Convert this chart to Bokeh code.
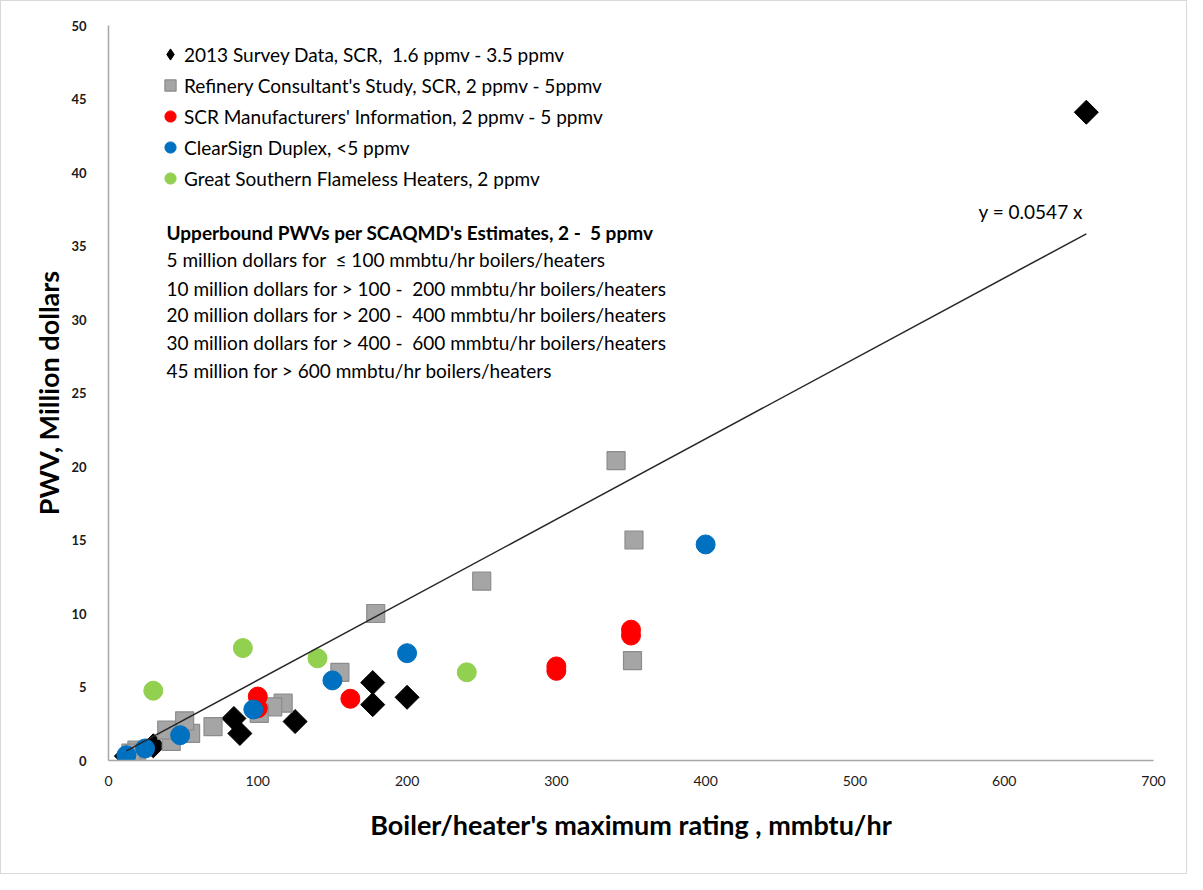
import math
from bokeh.plotting import figure
from bokeh.models import (Legend, LegendItem, Label, Range1d, FixedTicker,
                          ColumnDataSource, CDSView, IndexFilter)
from bokeh.embed import file_html
from bokeh.resources import INLINE

# ---------------- data ----------------
survey_x = [655, 177, 177, 200, 125, 84, 88, 30, 12]
survey_y = [44.1, 5.3, 3.8, 4.3, 2.65, 2.86, 1.84, 1.0, 0.3]

refinery_x = [340, 352, 250, 179, 155, 351, 117, 110, 101, 70, 55, 51, 42, 39, 19, 15]
refinery_y = [20.4, 15.0, 12.2, 10.0, 6.0, 6.8, 3.9, 3.65, 3.2, 2.3, 1.84, 2.7, 1.3, 2.06, 0.7, 0.5]

scr_x = [350, 350, 300, 300, 162, 100, 100]
scr_y = [8.9, 8.5, 6.4, 6.1, 4.2, 4.35, 3.55]

clearsign_x = [400, 200, 150, 97, 48, 24.5, 12]
clearsign_y = [14.7, 7.3, 5.45, 3.47, 1.72, 0.82, 0.36]

flameless_x = [30, 90, 140, 240]
flameless_y = [4.75, 7.65, 6.95, 6.0]

trend_slope = 0.0547
trend_label = "y = 0.0547 x"

legend_labels = [
    "2013 Survey Data, SCR,  1.6 ppmv - 3.5 ppmv",
    "Refinery Consultant's Study, SCR, 2 ppmv - 5ppmv",
    "SCR Manufacturers' Information, 2 ppmv - 5 ppmv",
    "ClearSign Duplex, <5 ppmv",
    "Great Southern Flameless Heaters, 2 ppmv",
]

note_title = "Upperbound PWVs per SCAQMD's Estimates, 2 -  5 ppmv"
note_lines = [
    "5 million dollars for  \u2264 100 mmbtu/hr boilers/heaters",
    "10 million dollars for > 100 -   200 mmbtu/hr boilers/heaters",
    "20 million dollars for > 200 -   400 mmbtu/hr boilers/heaters",
    "30 million dollars for > 400 -  600 mmbtu/hr boilers/heaters",
    "45 million for > 600 mmbtu/hr boilers/heaters",
]

x_ticks = [0, 100, 200, 300, 400, 500, 600, 700]
y_ticks = [0, 5, 10, 15, 20, 25, 30, 35, 40, 45, 50]

FONT = "Lato"


def keep_spaces(s):
    # keep runs of spaces visible in SVG text
    return s.replace("  ", "\u00a0 ")


# ---------------- figure ----------------
p = figure(
    width=1187, height=874,
    x_range=Range1d(0, 700), y_range=Range1d(0, 50),
    output_backend="svg", toolbar_location=None,
    min_border_left=107, min_border_right=35,
    min_border_top=24, min_border_bottom=115,
)
p.outline_line_color = None
p.xgrid.visible = False
p.ygrid.visible = False
p.background_fill_color = "white"
p.border_fill_color = "white"
p.styles = {"border": "1px solid #D9D9D9"}

for ax in (p.xaxis[0], p.yaxis[0]):
    ax.axis_line_color = "#A6A6A6"
    ax.axis_line_width = 1.5
    ax.major_tick_line_color = None
    ax.minor_tick_line_color = None
    ax.major_label_text_font = FONT
    ax.major_label_text_color = "#1A1A1A"
    ax.axis_label_text_font = FONT
    ax.axis_label_text_font_style = "bold"
    ax.axis_label_text_font_size = "27px"
    ax.axis_label_text_color = "black"

p.xaxis.major_label_text_font_size = "14px"
p.yaxis.major_label_text_font_size = "13px"
p.yaxis.major_label_text_font_style = "bold"

p.xaxis.ticker = FixedTicker(ticks=x_ticks)
p.yaxis.ticker = FixedTicker(ticks=y_ticks)
p.xaxis.axis_label = "Boiler/heater's maximum rating , mmbtu/hr"
p.yaxis.axis_label = "PWV, Million dollars"
p.xaxis.major_label_standoff = 9
p.yaxis.major_label_standoff = 16
p.xaxis.axis_label_standoff = 19
p.yaxis.axis_label_standoff = 3

survey_src = ColumnDataSource(dict(x=survey_x, y=survey_y))

# legend swatch for the diamond series: one survey point, drawn small and
# fully hidden underneath the big rotated-square marker drawn next
r_sv_key = p.scatter("x", "y", source=survey_src,
                     view=CDSView(filter=IndexFilter(indices=[0])),
                     marker="diamond", size=13,
                     fill_color="black", line_color="black")

# series, drawn in the original series order (later ones on top)
r_sv = p.scatter("x", "y", source=survey_src, marker="square", size=17,
                 angle=math.pi / 4, fill_color="black", line_color="black")
r_ref = p.scatter(refinery_x, refinery_y, marker="square", size=18,
                  fill_color="#A5A5A5", line_color="#8C8C8C", line_width=1.2)
r_scr = p.scatter(scr_x, scr_y, marker="circle", size=19,
                  fill_color="#FF0000", line_color="#FF0000")
r_cs = p.scatter(clearsign_x, clearsign_y, marker="circle", size=19,
                 fill_color="#0070C0", line_color="#0070C0")
r_fl = p.scatter(flameless_x, flameless_y, marker="circle", size=19,
                 fill_color="#92D050", line_color="#92D050")

# trend line through all data, on top
all_x = survey_x + refinery_x + scr_x + clearsign_x + flameless_x
tx = [min(all_x), max(all_x)]
ty = [trend_slope * v for v in tx]
p.line(tx, ty, line_color="#262626", line_width=1.5)

legend = Legend(
    items=[
        LegendItem(label=keep_spaces(legend_labels[0]), renderers=[r_sv_key]),
        LegendItem(label=keep_spaces(legend_labels[1]), renderers=[r_ref]),
        LegendItem(label=keep_spaces(legend_labels[2]), renderers=[r_scr]),
        LegendItem(label=keep_spaces(legend_labels[3]), renderers=[r_cs]),
        LegendItem(label=keep_spaces(legend_labels[4]), renderers=[r_fl]),
    ],
    location=(48, 567),
    margin=0, padding=0, spacing=1,
    glyph_width=28, glyph_height=30, label_height=30,
    label_standoff=0,
    label_text_font=FONT, label_text_font_size="19px",
    label_text_color="black",
    border_line_color=None, background_fill_alpha=0,
)
p.add_layout(legend, "center")

note_y = [528, 501, 472, 446, 418, 390]
p.add_layout(Label(x=58, y=note_y[0], x_units="screen", y_units="screen",
                   text=keep_spaces(note_title), text_font=FONT, text_font_size="19px",
                   text_font_style="bold", text_baseline="middle", text_color="black"))
for yy, t in zip(note_y[1:], note_lines):
    p.add_layout(Label(x=58, y=yy, x_units="screen", y_units="screen",
                       text=keep_spaces(t), text_font=FONT, text_font_size="19px",
                       text_baseline="middle", text_color="black"))

p.add_layout(Label(x=870, y=549, x_units="screen", y_units="screen",
                   text=trend_label, text_font=FONT, text_font_size="19px",
                   text_baseline="middle", text_color="black"))

open("out.html", "w").write(file_html(p, INLINE))
